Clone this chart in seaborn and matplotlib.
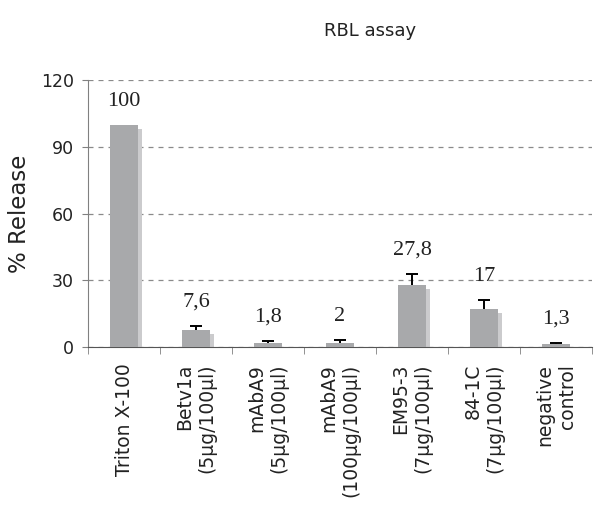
import numpy as np
import pandas as pd
import matplotlib
matplotlib.use("Agg")
import matplotlib.pyplot as plt
import matplotlib.transforms as mtransforms
import seaborn as sns

# data
categories = ["Triton X-100", "Betv1a\n(5µg/100µl)", "mAbA9\n(5µg/100µl)",
              "mAbA9\n(100µg/100µl)", "EM95-3\n(7µg/100µl)", "84-1C\n(7µg/100µl)",
              "negative\ncontrol"]
release = [100, 7.6, 1.8, 2, 27.8, 17, 1.3]
errors = [0, 1.9, 1.0, 1.2, 5.2, 4.0, 0.6]
value_labels = ["100", "7,6", "1,8", "2", "27,8", "17", "1,3"]
y_ticks = [0, 30, 60, 90, 120]

df = pd.DataFrame({"sample": categories, "release": release})

sns.set_style("white")
plt.rcParams["font.family"] = ["DejaVu Sans"]

fig = plt.figure(figsize=(6, 5.09), dpi=100)
ax = fig.add_axes([0.1467, 0.3183, 0.84, 0.5245])

# shadow bars, shifted a few pixels right/down
sns.barplot(data=df, x="sample", y="release", color="#cbcbcd", width=0.39,
            saturation=1, errorbar=None, linewidth=0, ax=ax, zorder=2)
shift = mtransforms.ScaledTranslation(4 / 100, -4 / 100, fig.dpi_scale_trans)
for p in ax.patches:
    p.set_transform(ax.transData + shift)

# main bars
sns.barplot(data=df, x="sample", y="release", color="#a8a9ab", width=0.39,
            saturation=1, errorbar=None, linewidth=0, ax=ax, zorder=3)

x = np.arange(len(categories))
err = np.array(errors)
has_err = err > 0
_, caps, _ = ax.errorbar(x[has_err], np.array(release)[has_err],
                         yerr=[np.zeros(has_err.sum()), err[has_err]], fmt="none",
                         ecolor="black", elinewidth=1.4, capsize=4, capthick=1.4,
                         zorder=4)
caps[0].remove()  # keep only the upper caps

for i, (v, e, lab) in enumerate(zip(release, errors, value_labels)):
    ax.annotate(lab, (i, v + e), xytext=(0, 10), textcoords="offset points",
                ha="center", va="bottom", fontsize=16,
                family="Liberation Serif", color="#222222")

ax.set_ylim(0, 120)
ax.set_xlim(-0.5, len(categories) - 0.5)
ax.set_yticks(y_ticks)
ax.tick_params(axis="y", labelsize=12.5, length=4, color="#808080",
               left=True, labelcolor="#222222", pad=6)
ax.set_xticks(x)
ax.set_xticklabels(categories, rotation=90, fontsize=13.5, ha="center",
                   va="top", multialignment="right", color="#222222")
ax.tick_params(axis="x", length=0, pad=12)
ax.set_xticks(np.arange(len(categories) + 1) - 0.5, minor=True)
ax.tick_params(axis="x", which="minor", length=5, color="#808080", bottom=True)

ax.yaxis.grid(True, linestyle=(0, (4, 4)), color="#8a8a8a", linewidth=0.9)
ax.set_axisbelow(True)
for s in ["top", "right"]:
    ax.spines[s].set_visible(False)
ax.spines["left"].set_color("#808080")
ax.spines["bottom"].set_color("#555555")

ax.set_xlabel("")
ax.set_ylabel("% Release", fontsize=16.5, color="#222222", labelpad=7)
fig.text(0.617, 0.94, "RBL assay", ha="center", va="center", fontsize=13,
         color="#222222")

fig.savefig("out.png", dpi=100)
